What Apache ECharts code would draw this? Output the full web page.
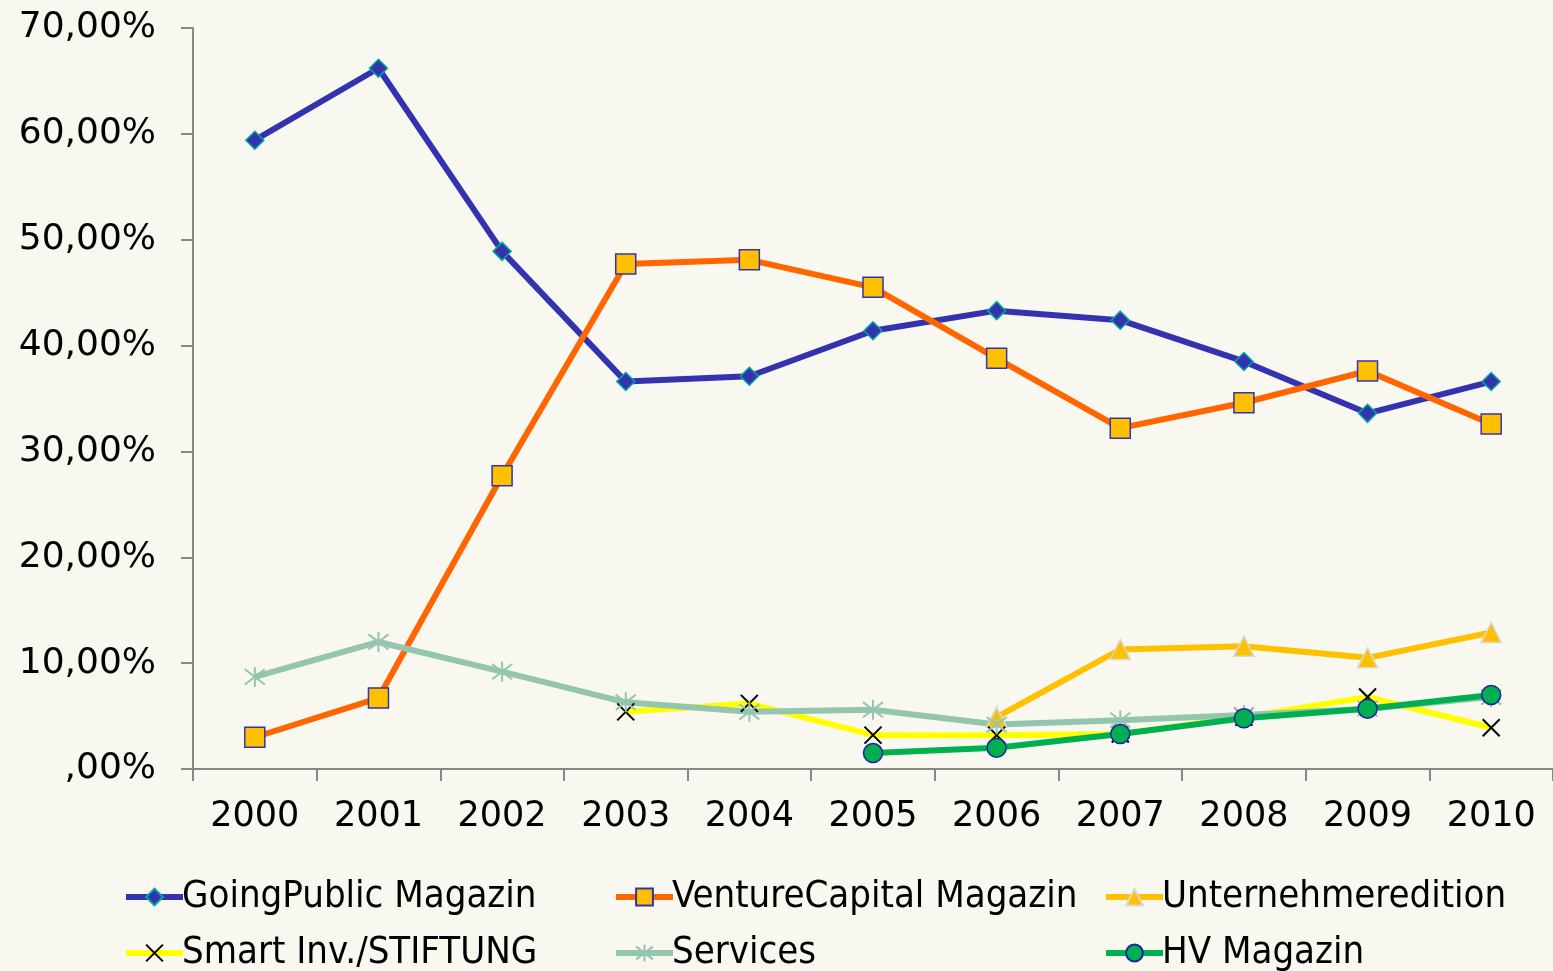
<!DOCTYPE html>
<html>
<head>
<meta charset="utf-8">
<script src="https://cdn.jsdelivr.net/npm/echarts@6/dist/echarts.min.js"></script>
<style>
html,body{margin:0;padding:0;background:#F8F8F0;}
#c{width:1553px;height:971px;}
</style>
</head>
<body>
<div id="c"></div>
<script>
const years = ['2000','2001','2002','2003','2004','2005','2006','2007','2008','2009','2010'];
const goingPublic = [59.4, 66.2, 48.9, 36.6, 37.1, 41.4, 43.3, 42.4, 38.5, 33.6, 36.6];
const ventureCapital = [3.0, 6.7, 27.7, 47.7, 48.1, 45.5, 38.8, 32.2, 34.6, 37.6, 32.6];
const unternehmeredition = [null, null, null, null, null, null, 4.9, 11.3, 11.6, 10.5, 12.9];
const smartInv = [null, null, null, 5.4, 6.2, 3.2, 3.2, 3.3, 4.9, 6.8, 3.9];
const services = [8.7, 12.0, 9.2, 6.3, 5.4, 5.6, 4.2, 4.6, 5.1, 5.7, 6.8];
const hvMagazin = [null, null, null, null, null, 1.5, 2.0, 3.3, 4.8, 5.7, 7.0];
const yTicks = [0, 10, 20, 30, 40, 50, 60, 70];

const chart = echarts.init(document.getElementById('c'), null, {renderer:'canvas'});
const FONT = 'DejaVu Sans';
const LFONT = 'DejaVu Sans Condensed';
const xPath = 'path://M0,0L10,10M10,0L0,10';
const starPath = 'path://M5,0L5,10M1.2,1.2L8.8,8.8M8.8,1.2L1.2,8.8';

function mk(name, data, color, symbol, size, itemStyle) {
  return {
    name: name, type:'line', data: data, symbol: symbol, symbolSize: size,
    showSymbol:true, connectNulls:false, animation:false,
    lineStyle:{color:color, width:6},
    itemStyle: Object.assign({color:color}, itemStyle||{}),
    emphasis:{disabled:true}
  };
}

function lg(name, left, top) {
  return {
    show:true, orient:'horizontal', left:left, top:top,
    data:[name], itemWidth:57, itemHeight:21, itemGap:0, padding:0,
    selectedMode:false,
    lineStyle:{width:6},
    textStyle:{fontFamily:LFONT, fontSize:38, color:'#000', padding:[0,0,0,-6]}
  };
}

chart.setOption({
  backgroundColor:'#F8F8F0',
  animation:false,
  grid:{left:193, right:0, top:28, bottom:202, containLabel:false},
  xAxis:{
    type:'category', data:years, boundaryGap:true,
    axisLine:{lineStyle:{color:'#888', width:2}},
    axisTick:{show:true, length:12, lineStyle:{color:'#888', width:2}, alignWithLabel:false},
    axisLabel:{fontFamily:FONT, fontSize:35, color:'#000', margin:30}
  },
  yAxis:{
    type:'value', min:yTicks[0], max:yTicks[yTicks.length-1], interval:10,
    axisLine:{show:true, lineStyle:{color:'#888', width:2}},
    axisTick:{show:true, length:12, lineStyle:{color:'#888', width:2}},
    splitLine:{show:false},
    axisLabel:{fontFamily:FONT, fontSize:36, color:'#000', margin:37,
      formatter:function(v){ return (v===0 ? '' : String(v)) + ',00%'; }}
  },
  legend:[
    lg('GoingPublic Magazin', 123, 878),
    lg('Smart Inv./STIFTUNG', 123, 934),
    lg('VentureCapital Magazin', 613, 878),
    lg('Services', 613, 934),
    lg('Unternehmeredition', 1103, 878),
    lg('HV Magazin', 1103, 934)
  ],
  series:[
    mk('GoingPublic Magazin', goingPublic, '#3333B0', 'diamond', 18,
       {color:'#3333B0', borderColor:'#00A89A', borderWidth:1.5}),
    mk('VentureCapital Magazin', ventureCapital, '#FF6600', 'rect', 20,
       {color:'#FFC000', borderColor:'#3333B0', borderWidth:1.5}),
    mk('Unternehmeredition', unternehmeredition, '#FFC000', 'triangle', 20,
       {color:'#FFC000', borderColor:'#D8D8D8', borderWidth:1.5}),
    mk('Smart Inv./STIFTUNG', smartInv, '#FFFF00', xPath, 17,
       {color:'none', borderColor:'#000', borderWidth:2}),
    mk('Services', services, '#93C5AF', starPath, 20,
       {color:'none', borderColor:'#93C5AF', borderWidth:2}),
    mk('HV Magazin', hvMagazin, '#00B050', 'circle', 19,
       {color:'#00B050', borderColor:'#2222A0', borderWidth:1.5})
  ]
});
</script>
</body>
</html>
